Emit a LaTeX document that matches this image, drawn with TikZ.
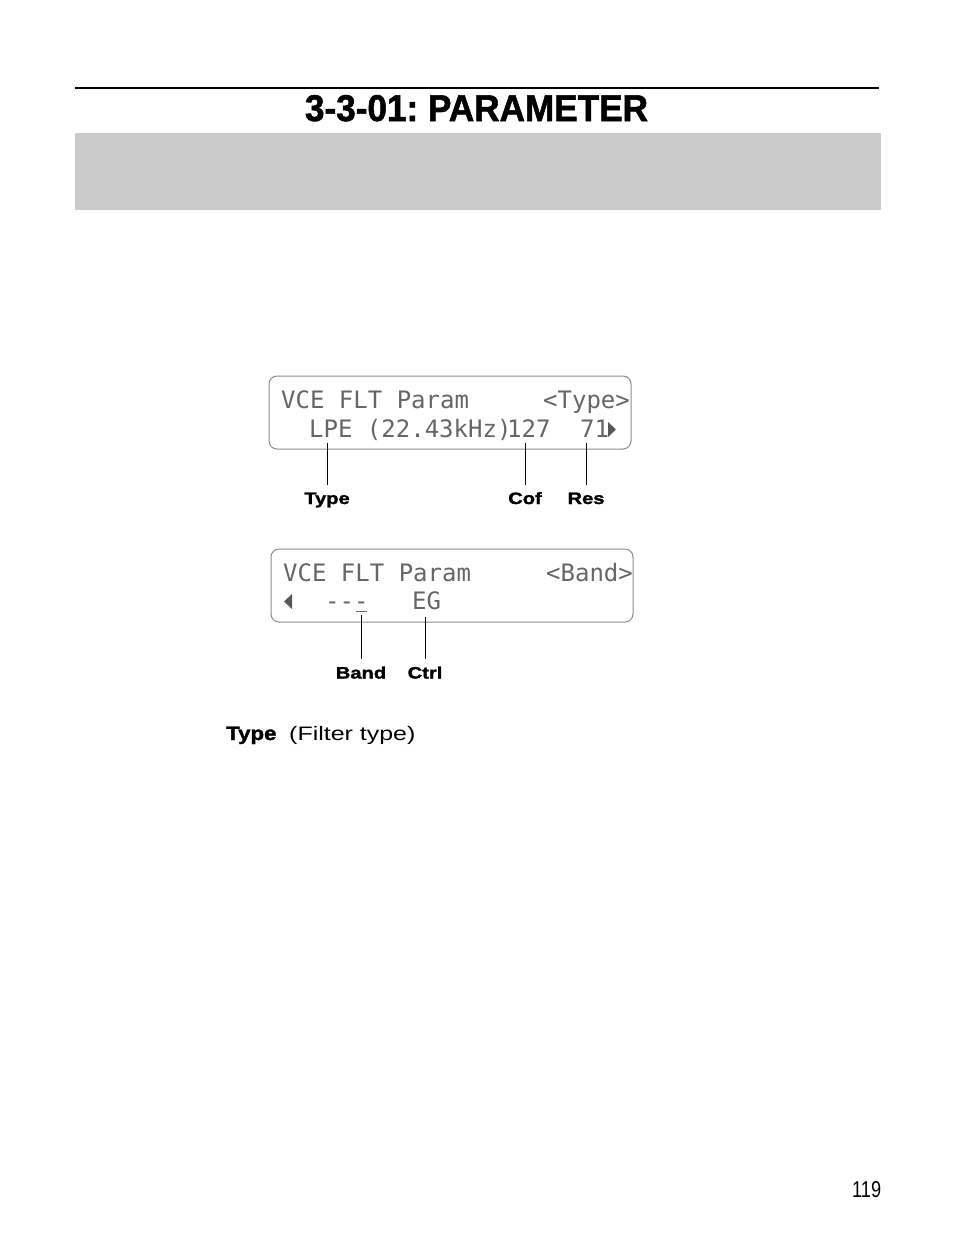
\documentclass[tikz,border=0pt]{standalone}
\usepackage{fontspec}
\usepackage{graphicx}
\setmainfont{Liberation Sans}
\newfontfamily\lcdfont{DejaVu Sans Mono}
\newfontfamily\titlefont{Liberation Sans}[BoldFeatures={FakeBold=1.5}]
\newfontfamily\labfont{Liberation Sans}[FakeStretch=1.22,BoldFeatures={FakeBold=1.6}]
\newfontfamily\bodyBfont{Liberation Sans}[FakeStretch=1.14,BoldFeatures={FakeBold=1.6}]
\newfontfamily\bodyRfont{Liberation Sans}[FakeStretch=1.28]
\definecolor{bandgray}{RGB}{203,203,203}
\begin{document}
\begin{tikzpicture}[x=1pt,y=-1pt]
\tikzset{
  lcdframe/.style={draw=black!45, line width=1pt, rounded corners=8pt},
  lcdtext/.style={anchor=base west, inner sep=0pt, text=black!60,
    font=\lcdfont\fontsize{24}{24}\selectfont},
  lcdmark/.style={fill=black!65, draw=none},
  callout/.style={anchor=base, inner sep=0pt,
    font=\labfont\bfseries\fontsize{16.5}{16.5}\selectfont},
  leader/.style={draw=black, line width=1pt},
}
\fill[white] (0,0) rectangle (954,1235);
\useasboundingbox (0,0) rectangle (954,1235);

% header
\draw[line width=1.2pt] (75,88) -- (879,88);
\node[anchor=base, inner sep=0pt] (title) at (476.5,121)
  {\resizebox{343pt}{26pt}{\titlefont\bfseries 3-3-01:\ PARAMETER}};
\fill[bandgray] (75,133) rectangle (881,210);

% LCD 1
\draw[lcdframe] (269,376) rectangle (631,449);
\node[lcdtext] (l1a) at (281,408) {VCE FLT Param};
\node[lcdtext] (l1b) at (543,408) {<Type>};
\node[lcdtext] (l1c) at (309,437) {LPE (22.43kHz)};
\node[lcdtext] (l1d) at (507,437) {127};
\node[lcdtext] (l1e) at (580,437) {71};
\fill[lcdmark] (608,422) -- (616,429.5) -- (608,437) -- cycle;

% LCD 2
\draw[lcdframe] (271,549) rectangle (633,622);
\node[lcdtext] (l2a) at (283,581) {VCE FLT Param};
\node[lcdtext] (l2b) at (546,581) {<Band>};
\fill[lcdmark] (292,594) -- (284,601.5) -- (292,609) -- cycle;
\node[lcdtext] (l2c) at (325,609) {---};
\draw[black!60, line width=1.5pt] (356,611.5) -- (367,611.5);
\node[lcdtext] (l2d) at (412,609) {EG};

% callouts LCD 1
\coordinate (typeEnd) at (327,443);
\coordinate (cofEnd) at (525,443);
\coordinate (resEnd) at (586,443);
\node[callout] (typeLab) at (327,504) {Type};
\node[callout] (cofLab) at (525,504) {Cof};
\node[callout] (resLab) at (586,504) {Res};
\draw[leader] (typeEnd) -- ([yshift=7pt]typeLab.north);
\draw[leader] (cofEnd) -- ([yshift=7pt]cofLab.north);
\draw[leader] (resEnd) -- ([yshift=7pt]resLab.north);

% callouts LCD 2
\coordinate (bandEnd) at (361,615);
\coordinate (ctrlEnd) at (425,617);
\node[callout] (bandLab) at (361,678.5) {Band};
\node[callout] (ctrlLab) at (425,678.5) {Ctrl};
\draw[leader] (bandEnd) -- ([yshift=7.5pt]bandLab.north);
\draw[leader] (ctrlEnd) -- ([yshift=7.5pt]ctrlLab.north);

% body text
\node[anchor=base west, inner sep=0pt, font=\bodyBfont\bfseries\fontsize{19.5}{19.5}\selectfont] (bodyType) at (226,740) {Type};
\node[anchor=base west, inner sep=0pt, font=\bodyRfont\fontsize{19.5}{19.5}\selectfont] (bodyDesc) at (289,740) {(Filter type)};

% page number
\node[anchor=base west, inner sep=0pt] (pagenum) at (852,1197) {\resizebox{29pt}{16pt}{119}};
\end{tikzpicture}
\end{document}
